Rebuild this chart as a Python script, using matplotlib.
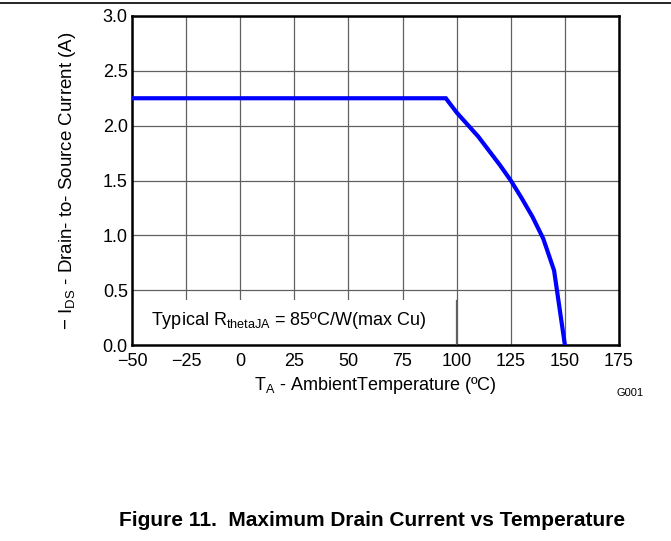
import matplotlib.pyplot as plt
from matplotlib.lines import Line2D

plt.rcParams['font.family'] = ['Liberation Sans', 'DejaVu Sans']

# ambient temperature (C) and max drain current (A)
temp = [-50, 95, 100, 105, 110, 115, 120, 125, 130, 135, 140, 145, 150]
current = [2.25, 2.25, 2.12, 2.01, 1.90, 1.77, 1.64, 1.50, 1.34, 1.17, 0.97, 0.68, 0.0]

xticks = [-50, -25, 0, 25, 50, 75, 100, 125, 150, 175]
xticklabels = ['\u221250', '\u221225', '0', '25', '50', '75', '100', '125', '150', '175']
yticks = [0.0, 0.5, 1.0, 1.5, 2.0, 2.5, 3.0]

fig = plt.figure(figsize=(6.71, 5.41), dpi=100)
ax = fig.add_axes([132 / 671, 1 - 345 / 541, (619 - 132) / 671, (345 - 16) / 541])

ax.plot(temp, current, color='#0000ff', lw=3, solid_joinstyle='miter', zorder=3)
ax.set_xlim(-50, 175)
ax.set_ylim(0, 3)
ax.set_xticks(xticks)
ax.set_xticklabels(xticklabels)
ax.set_yticks(yticks)
ax.set_yticklabels(['%.1f' % v for v in yticks])
ax.tick_params(length=0, labelsize=13)
ax.tick_params(axis='x', pad=6)
ax.tick_params(axis='y', pad=3)
ax.grid(True, color='#606060', lw=0.9)
for s in ax.spines.values():
    s.set_linewidth(1.8)

ax.set_xlabel('T$_\\mathregular{A}$ - AmbientTemperature (\u00baC)', fontsize=13, labelpad=3)
ax.set_ylabel('\u2212 I$_\\mathregular{DS}$ - Drain- to- Source Current (A)', fontsize=13.5, labelpad=18)

ax.text(0.04, 0.075, 'Typical R$_\\mathregular{thetaJA}$ = 85\u00baC/W(max Cu)', transform=ax.transAxes,
        fontsize=13, va='center', ha='left', zorder=5)
# white note box hiding the grid, with a thin right edge only
box_w = (456 - 132) / (619 - 132)
box_h = (345 - 300) / (345 - 16)
ax.add_patch(plt.Rectangle((0, 0), box_w, box_h, transform=ax.transAxes,
                           fc='white', ec='none', zorder=2.5))
ax.add_line(Line2D([box_w, box_w], [0, box_h], transform=ax.transAxes,
                   color='#606060', lw=0.9, zorder=2.6))

fig.text(630 / 671, 1 - 393 / 541, 'G001', fontsize=8, ha='center', va='center')
fig.text(372 / 671, 1 - 521 / 541, 'Figure 11.  Maximum Drain Current vs Temperature',
         fontsize=15, fontweight='bold', ha='center', va='center')
fig.add_artist(Line2D([0, 1], [1 - 3 / 541, 1 - 3 / 541], color='black', lw=1.2,
                      transform=fig.transFigure))

fig.savefig('out.png', dpi=100)
